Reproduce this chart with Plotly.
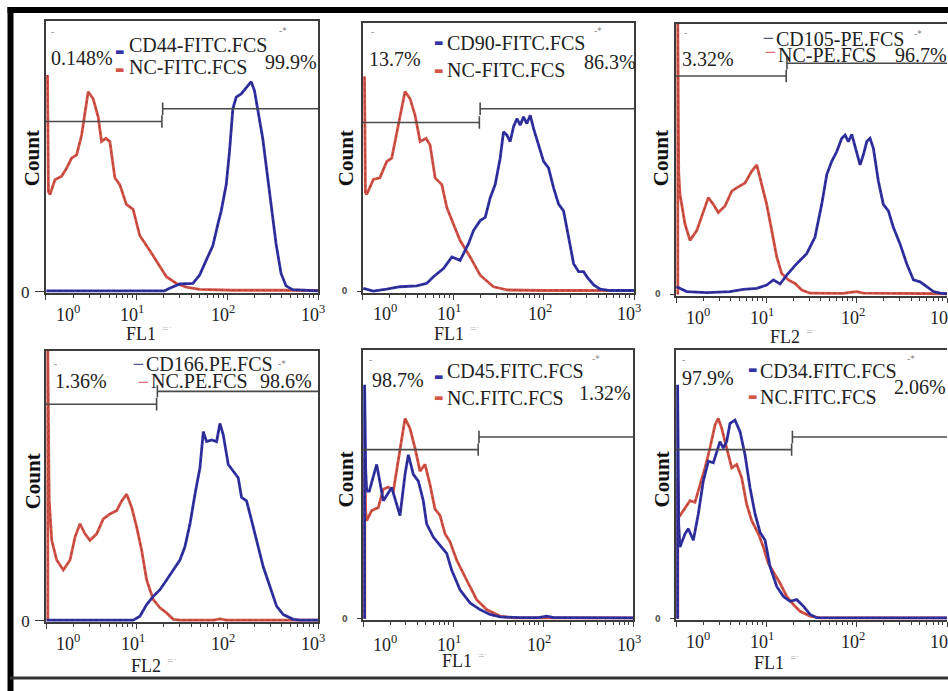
import plotly.graph_objects as go

# ---------------- histogram data ----------------
# x values are log10 of the fluorescence intensity, y values are relative event counts
# (percentage of the panel's count scale).

# CD44 / NC (FITC)
nc_fitc_a_x = [0.02, 0.03, 0.047, 0.102, 0.176, 0.231, 0.286, 0.341, 0.396, 0.468, 0.523, 0.578, 0.615, 0.663,
               0.707, 0.762, 0.816, 0.889, 0.963, 1.036, 1.146, 1.237, 1.33, 1.44, 1.55, 1.696, 2.06, 2.61, 3.0]
nc_fitc_a_y = [80, 37, 35.8, 41.3, 42.6, 45.6, 49.3, 50.5, 57.8, 73.8, 71.2, 64.5, 55.4, 56.6,
               55.4, 42, 39.5, 32.2, 30.4, 20.7, 15.2, 10.3, 5.5, 3, 1.6, 0.8, 0.5, 0.5, 0.4]
cd44_x = [0.008, 1.31, 1.366, 1.476, 1.622, 1.696, 1.769, 1.842, 1.897, 1.934, 1.989, 2.025, 2.062, 2.099,
          2.154, 2.209, 2.264, 2.3, 2.336, 2.391, 2.428, 2.483, 2.538, 2.593, 2.648, 2.721, 3.0]
cd44_y = [0.3, 0.3, 1.2, 2.8, 3, 6.1, 11.6, 17, 24.9, 29.8, 39.5, 51.7, 67.5, 71.8,
          73, 75.4, 77.5, 74.2, 67.5, 56.6, 46.8, 32.2, 17.6, 6.7, 2.1, 0.7, 0.3]

# CD90 / NC (FITC)
nc_fitc_b_x = [0.02, 0.03, 0.044, 0.118, 0.19, 0.266, 0.321, 0.376, 0.468, 0.524, 0.579, 0.635, 0.701,
               0.745, 0.801, 0.875, 0.93, 1.003, 1.077, 1.188, 1.299, 1.446, 1.595, 2.0, 3.0]
nc_fitc_b_y = [80, 37, 36.1, 41.7, 42.3, 48.4, 49.6, 59.4, 74.4, 71.7, 65.6, 55.8, 57,
               54.5, 42.3, 39.8, 31.3, 25.1, 19, 12.9, 6.1, 1.8, 0.6, 0.4, 0.4]
cd90_x = [0.007, 0.118, 0.266, 0.413, 0.598, 0.709, 0.782, 0.893, 0.986, 1.077, 1.17, 1.225, 1.299, 1.355,
          1.41, 1.465, 1.52, 1.557, 1.595, 1.631, 1.668, 1.705, 1.742, 1.778, 1.815, 1.853, 1.889, 1.945,
          2.0, 2.055, 2.111, 2.166, 2.221, 2.277, 2.332, 2.388, 2.443, 2.48, 2.554, 2.627, 2.739, 3.0]
cd90_y = [1.2, 0.2, 0.9, 1.8, 2.1, 3.1, 5.5, 8.6, 12.9, 11.6, 17.8, 22.7, 26.4, 27.6,
          34.9, 39.8, 49.6, 59.4, 58.2, 55.8, 61.3, 64.3, 61.9, 65, 62.5, 65.6, 60.7, 54.5,
          48.4, 46, 38.6, 32.5, 30, 20.2, 10.4, 7.4, 7.4, 5.5, 2.5, 0.9, 0.4, 0.4]

# CD105 / NC (PE)
nc_pe_a_x = [0.02, 0.02, 0.03, 0.044, 0.1, 0.155, 0.229, 0.302, 0.358, 0.413, 0.468, 0.543, 0.617, 0.672,
             0.764, 0.838, 0.894, 0.949, 1.004, 1.06, 1.115, 1.17, 1.244, 1.318, 1.392, 1.484, 1.85, 1.927,
             2.0, 2.074, 3.0]
nc_pe_a_y = [0, 100, 45, 37, 26, 20, 23.6, 30.9, 35.8, 33.3, 30.3, 32.7, 38.2, 39.4,
             41.2, 45.5, 47.9, 40.6, 33.3, 23.6, 13.9, 7.8, 5.4, 4.1, 1.7, 0.5, 0.4, 0.8,
             1.1, 0.5, 0.3]
cd105_x = [0.007, 0.118, 0.34, 0.598, 0.745, 0.894, 1.004, 1.078, 1.152, 1.226, 1.336, 1.447, 1.539,
           1.613, 1.669, 1.724, 1.78, 1.835, 1.872, 1.908, 1.946, 2.001, 2.038, 2.074, 2.112, 2.148,
           2.185, 2.24, 2.295, 2.351, 2.406, 2.48, 2.554, 2.628, 2.702, 2.776, 2.85, 2.924, 3.0]
cd105_y = [2.9, 1.1, 0.7, 1.1, 1.9, 2.3, 3.5, 5.4, 3.9, 7.2, 11.4, 15.1, 21.2,
           33.3, 44.3, 49.2, 52.8, 57.7, 58.9, 56.5, 59.1, 52.8, 47.9, 51.6, 56.5, 57.7,
           54, 41.9, 33.3, 30.9, 24.8, 18.7, 11.4, 5.4, 4.7, 2.9, 1.1, 0.5, 0.3]

# CD166 / NC (PE)
nc_pe_b_x = [0.02, 0.02, 0.035, 0.063, 0.118, 0.191, 0.265, 0.32, 0.375, 0.43, 0.485, 0.559, 0.632, 0.706,
             0.779, 0.835, 0.89, 0.945, 1.0, 1.055, 1.11, 1.183, 1.257, 1.33, 1.404, 1.477, 1.85, 1.918,
             1.99, 3.0]
nc_pe_b_y = [0, 100, 45, 29.8, 22.5, 18.8, 22.5, 31, 35.9, 32.2, 29.8, 32.2, 37.7, 39.6,
             40.8, 44.4, 46.9, 42, 34.7, 26.1, 15.1, 7.8, 4.8, 2.9, 0.5, 0.2, 0.2, 0.7,
             0.2, 0.2]
cd166_x = [0.008, 0.89, 0.963, 1.036, 1.11, 1.183, 1.257, 1.33, 1.404, 1.477, 1.532, 1.588, 1.643, 1.698,
           1.735, 1.771, 1.827, 1.882, 1.918, 1.955, 2.01, 2.065, 2.12, 2.157, 2.212, 2.268, 2.323,
           2.396, 2.47, 2.543, 2.617, 2.727, 2.8, 3.0]
cd166_y = [0.2, 0.2, 0.24, 1.7, 6, 9, 11.5, 15.1, 18.8, 22.5, 27.4, 35.9, 46.9, 56.7,
           70.1, 66.4, 67, 66.4, 73.1, 68.9, 57.9, 55.4, 53, 45.7, 44.4, 37.1, 29.8,
           20, 12.7, 5.4, 2.3, 0.5, 0.2, 0.2]

# CD45 / NC (FITC)
nc_fitc_c_x = [0.02, 0.02, 0.03, 0.041, 0.096, 0.17, 0.226, 0.281, 0.337, 0.393, 0.467, 0.522, 0.578,
               0.633, 0.689, 0.744, 0.8, 0.856, 0.911, 0.967, 1.041, 1.152, 1.263, 1.374, 1.522, 1.67, 3.0]
nc_fitc_c_y = [0, 60, 40, 36.5, 40.2, 41.4, 48.2, 49, 47.5, 58.6, 74.5, 70.8, 63.5,
               54.9, 57.4, 50, 40.8, 38.4, 31.6, 28.6, 21.8, 14.4, 7.1, 3.4, 1, 0.3, 0.3]
cd45_x = [0.018, 0.018, 0.03, 0.041, 0.07, 0.152, 0.226, 0.319, 0.411, 0.467, 0.504, 0.559, 0.615, 0.67,
          0.707, 0.781, 0.856, 0.93, 0.985, 1.078, 1.189, 1.3, 1.411, 1.522, 1.744, 1.95, 2.04, 2.12,
          2.189, 3.0]
cd45_y = [0, 87, 55, 47.5, 47.5, 57.4, 43.9, 48.8, 38.4, 53.7, 61, 53.7, 51.2, 43.9,
          35.3, 30.4, 27.3, 24.3, 18.1, 10.8, 5.9, 3.4, 1.6, 0.7, 0.4, 0.4, 1, 0.4,
          0.4, 0.3]

# CD34 / NC (FITC)
nc_fitc_d_x = [0.02, 0.02, 0.03, 0.1, 0.155, 0.21, 0.266, 0.321, 0.376, 0.432, 0.468, 0.506, 0.561,
               0.617, 0.672, 0.727, 0.782, 0.838, 0.912, 0.967, 1.022, 1.078, 1.152, 1.226, 1.299, 1.373,
               1.484, 1.595, 3.0]
nc_fitc_d_y = [0, 52, 37.7, 41.4, 43.9, 43.3, 49.4, 56.1, 63.5, 72.1, 74.5, 70.8, 63.5,
               56.1, 57.4, 52.5, 42.6, 36.5, 31.6, 26.7, 20.6, 17.5, 13.2, 8.3, 5.3, 2.8,
               1, 0.3, 0.3]
cd34_x = [0.018, 0.018, 0.03, 0.044, 0.1, 0.136, 0.192, 0.247, 0.302, 0.358, 0.413, 0.45, 0.487, 0.524,
          0.561, 0.598, 0.653, 0.709, 0.764, 0.819, 0.875, 0.93, 0.986, 1.041, 1.115, 1.189, 1.262,
          1.336, 1.41, 1.484, 1.558, 3.0]
cd34_y = [0, 87, 35, 26.7, 31.6, 33.5, 29.2, 39, 51.2, 58.6, 58, 62.2, 65.9, 63.5,
          65.9, 72.7, 73.9, 69.6, 61, 48.8, 39, 32.2, 29.2, 19.4, 12, 8.3, 6.5,
          7.1, 4.7, 1.6, 0.4, 0.3]

# ---------------- labels ----------------
sample_files = ["CD44-FITC.FCS", "CD90-FITC.FCS", "CD105-PE.FCS", "CD166.PE.FCS", "CD45.FITC.FCS", "CD34.FITC.FCS"]
control_files = ["NC-FITC.FCS", "NC-FITC.FCS", "NC-PE.FCS", "NC.PE.FCS", "NC.FITC.FCS", "NC.FITC.FCS"]
gate_low_pct = ["0.148%", "13.7%", "3.32%", "1.36%", "98.7%", "97.9%"]
gate_high_pct = ["99.9%", "86.3%", "96.7%", "98.6%", "1.32%", "2.06%"]
channels = ["FL1", "FL1", "FL2", "FL2", "FL1", "FL1"]
gate_split_log = [1.28, 1.29, 1.22, 1.22, 1.28, 1.28]
decade_labels = ["10<sup>0</sup>", "10<sup>1</sup>", "10<sup>2</sup>", "10<sup>3</sup>"]
count_title = "Count"

samples = [(cd44_x, cd44_y), (cd90_x, cd90_y), (cd105_x, cd105_y),
           (cd166_x, cd166_y), (cd45_x, cd45_y), (cd34_x, cd34_y)]
controls = [(nc_fitc_a_x, nc_fitc_a_y), (nc_fitc_b_x, nc_fitc_b_y), (nc_pe_a_x, nc_pe_a_y),
            (nc_pe_b_x, nc_pe_b_y), (nc_fitc_c_x, nc_fitc_c_y), (nc_fitc_d_x, nc_fitc_d_y)]

# ---------------- layout geometry (pixels) ----------------
W, H = 948, 691


def px(x):
    return x / W


def py(y):
    return 1 - y / H


SERIF = "Liberation Serif"
BLUE = "#3434a6"
BLUE_CORE = "#17175a"
RED = "#d4554a"
RED_CORE = "#8c2f28"
AXIS = "#3c3c3c"

# left, right, top, bottom of each plot box
boxes = [(45.7, 318, 21, 295), (362.7, 634, 23, 295), (676, 947, 24, 298),
         (46, 318, 355, 628), (363, 633, 354, 626), (676, 947, 354, 626)]
Y_MIN = -0.6

panel_style = [
    dict(big_zero=True, right_line=True, tick_y=317, count_xy=(32, 160), title_xy=(158, 338),
         low=(49, 59), high=(263, 63), s_txt=(127, 46), c_txt=(127, 68), s_dash=(119, 52), c_dash=(119, 70),
         thin=False, mark_l=(52, 32), mark_r=(283, 31), gate_y=(62.8, 67.5)),
    dict(big_zero=False, right_line=True, tick_y=316, count_xy=(346, 160), title_xy=(466, 338),
         low=(367, 60), high=(582, 63), s_txt=(445, 43), c_txt=(445, 71), s_dash=(438, 43), c_dash=(438, 71),
         thin=False, mark_l=(372, 32), mark_r=(598, 31), gate_y=(62.9, 68.0)),
    dict(big_zero=False, right_line=False, tick_y=320, count_xy=(661, 160), title_xy=(802, 341),
         low=(680, 60), high=(893, 56), s_txt=(774, 39), c_txt=(776, 56), s_dash=(768, 38), c_dash=(770, 53),
         thin=True, mark_l=(685, 33), mark_r=(918, 34), gate_y=(80.7, 85.4)),
    dict(big_zero=True, right_line=True, tick_y=650, count_xy=(33, 487), title_xy=(163, 674),
         low=(53, 385), high=(258, 385), s_txt=(144, 368), c_txt=(149, 385), s_dash=(138, 368), c_dash=(143, 386),
         thin=True, mark_l=(55, 368), mark_r=(282, 368), gate_y=(80.2, 85.0)),
    dict(big_zero=False, right_line=True, tick_y=651, count_xy=(346, 485), title_xy=(474, 669),
         low=(370, 384), high=(577, 398), s_txt=(445, 375), c_txt=(445, 403), s_dash=(438, 381), c_dash=(438, 402),
         thin=False, mark_l=(370, 364), mark_r=(596, 363), gate_y=(62.9, 67.6)),
    dict(big_zero=False, right_line=False, tick_y=648, count_xy=(662, 485), title_xy=(786, 671),
         low=(680, 382), high=(892, 392), s_txt=(758, 375), c_txt=(758, 402), s_dash=(752, 374), c_dash=(752, 401),
         thin=False, mark_l=(683, 364), mark_r=(911, 363), gate_y=(62.9, 67.6)),
]

decade_ticks = [1, 10, 100, 1000]
minor_ticks = [m * d for d in (1, 10, 100) for m in range(2, 10)]
label_logx = [0.245, 0.955, 1.955, 2.95]

fig = go.Figure()
annotations = []
layout_axes = {}

for i in range(6):
    n = i + 1
    xa, ya = f"x{n}", f"y{n}"
    xkey = "xaxis" if n == 1 else f"xaxis{n}"
    ykey = "yaxis" if n == 1 else f"yaxis{n}"
    left, right, top, bottom = boxes[i]
    st = panel_style[i]

    # zero count sits on the axis line: extend the domain by the small negative margin
    bottom_adj = bottom + (-Y_MIN) / 100.0 * (bottom - top)

    layout_axes[xkey] = dict(
        domain=[px(left), px(right)], anchor=ya, type="log", range=[0, 3],
        showline=True, linecolor=AXIS, linewidth=1.5, mirror=True,
        tickvals=decade_ticks, ticks="outside", ticklen=5, tickcolor=AXIS, tickwidth=1.2,
        minor=dict(tickvals=minor_ticks, ticks="outside", ticklen=3, tickcolor=AXIS, tickwidth=1),
        showticklabels=False, showgrid=False, zeroline=False,
    )
    if st["big_zero"]:
        yfont = dict(family=SERIF, size=17, color="#222")
        zero_text = ["0"]
        tlen, stand = 9, 2
    else:
        yfont = dict(family="DejaVu Sans", size=8, color="#555")
        zero_text = ["<b>0</b>"]
        tlen, stand = 4, 8
    layout_axes[ykey] = dict(
        domain=[py(bottom_adj), py(top)], anchor=xa, range=[Y_MIN, 100],
        showline=True, linecolor=AXIS, linewidth=1.5, mirror=st["right_line"],
        tickvals=[0], ticktext=zero_text, ticks="outside", ticklen=tlen, tickcolor=AXIS,
        ticklabelstandoff=stand, tickfont=yfont, showgrid=False, zeroline=False,
    )

    # histograms: control (red) underneath, sample (blue) on top
    for (lx, cy), col, core in ((controls[i], RED, RED_CORE), (samples[i], BLUE, BLUE_CORE)):
        xv = [10 ** v for v in lx]
        fig.add_trace(go.Scatter(x=xv, y=cy, xaxis=xa, yaxis=ya, mode="lines",
                                 line=dict(color=col, width=2.8), hoverinfo="skip", showlegend=False))
        fig.add_trace(go.Scatter(x=xv, y=cy, xaxis=xa, yaxis=ya, mode="lines", opacity=0.6,
                                 line=dict(color=core, width=1, dash="dot"), hoverinfo="skip", showlegend=False))

    # range gates: negative (left) and positive (right) markers
    g = 10 ** gate_split_log[i]
    gl, gr = st["gate_y"]
    gx = [1, g, None, g, g, None, g * 1.02, 1000, None, g * 1.02, g * 1.02]
    gy = [gl, gl, None, gl - 2.3, gl + 2.3, None, gr, gr, None, gr - 2.3, gr + 2.3]
    fig.add_trace(go.Scatter(x=gx, y=gy, xaxis=xa, yaxis=ya, mode="lines",
                             line=dict(color="#4a4a4a", width=1.6), hoverinfo="skip", showlegend=False))

    # decade tick labels
    for lab, lxv in zip(decade_labels, label_logx):
        annotations.append(dict(text=lab, x=lxv, xref=xa, y=py(st["tick_y"]), yref="paper",
                                showarrow=False, xanchor="center", yanchor="middle",
                                font=dict(family=SERIF, size=18, color="#222")))

    # axis titles
    cx, cyy = st["count_xy"]
    annotations.append(dict(text=f"<b>{count_title}</b>", x=px(cx), y=py(cyy), xref="paper", yref="paper",
                            showarrow=False, textangle=-90, xanchor="center", yanchor="middle",
                            font=dict(family=SERIF, size=21, color="#111")))
    tx, ty = st["title_xy"]
    annotations.append(dict(text=channels[i], x=px(tx), y=py(ty), xref="paper", yref="paper", showarrow=False,
                            xanchor="right", yanchor="middle", font=dict(family=SERIF, size=18, color="#222")))
    annotations.append(dict(text="=·", x=px(tx + 2), y=py(ty - 6), xref="paper", yref="paper", showarrow=False,
                            xanchor="left", yanchor="middle", font=dict(family="DejaVu Sans", size=8, color="#bdbdbd")))

    # gate percentages
    for txt, (ax_, ay_) in ((gate_low_pct[i], st["low"]), (gate_high_pct[i], st["high"])):
        annotations.append(dict(text=txt, x=px(ax_), y=py(ay_), xref="paper", yref="paper", showarrow=False,
                                xanchor="left", yanchor="middle", font=dict(family=SERIF, size=20, color="#222")))

    # overlay key: file names with colour swatches
    for txt, (ax_, ay_) in ((sample_files[i], st["s_txt"]), (control_files[i], st["c_txt"])):
        annotations.append(dict(text=txt, x=px(ax_), y=py(ay_), xref="paper", yref="paper", showarrow=False,
                                xanchor="left", yanchor="middle", font=dict(family=SERIF, size=20, color="#222")))
    if st["thin"]:
        sw = [("−", "#5a5a8c", 15, st["s_dash"]), ("−", "#e0707a", 15, st["c_dash"])]
    else:
        sw = [("▬", BLUE, 10, st["s_dash"]), ("▬", RED, 10, st["c_dash"])]
    for ch, col, size, (ax_, ay_) in sw:
        annotations.append(dict(text=ch, x=px(ax_), y=py(ay_), xref="paper", yref="paper", showarrow=False,
                                xanchor="center", yanchor="middle", font=dict(family="DejaVu Sans", size=size, color=col)))

    # small gate-name marks
    for ch, (ax_, ay_) in (("-", st["mark_l"]), ("-*", st["mark_r"])):
        annotations.append(dict(text=ch, x=px(ax_), y=py(ay_), xref="paper", yref="paper", showarrow=False,
                                xanchor="center", yanchor="middle", font=dict(family="DejaVu Sans", size=9, color="#777")))

# outer frame
frame = [
    dict(type="line", xref="paper", yref="paper", x0=px(7.5), x1=px(960), y0=py(10), y1=py(10),
         line=dict(color="#000", width=6)),
    dict(type="line", xref="paper", yref="paper", x0=px(10.5), x1=px(10.5), y0=py(7), y1=py(700),
         line=dict(color="#000", width=6)),
    dict(type="line", xref="paper", yref="paper", x0=px(10), x1=px(960), y0=py(686), y1=py(686),
         line=dict(color="#333", width=3)),
]

fig.update_layout(
    width=W, height=H, margin=dict(l=0, r=0, t=0, b=0),
    paper_bgcolor="white", plot_bgcolor="white",
    annotations=annotations, shapes=frame, showlegend=False,
    **layout_axes,
)

fig.write_html("out.html")
